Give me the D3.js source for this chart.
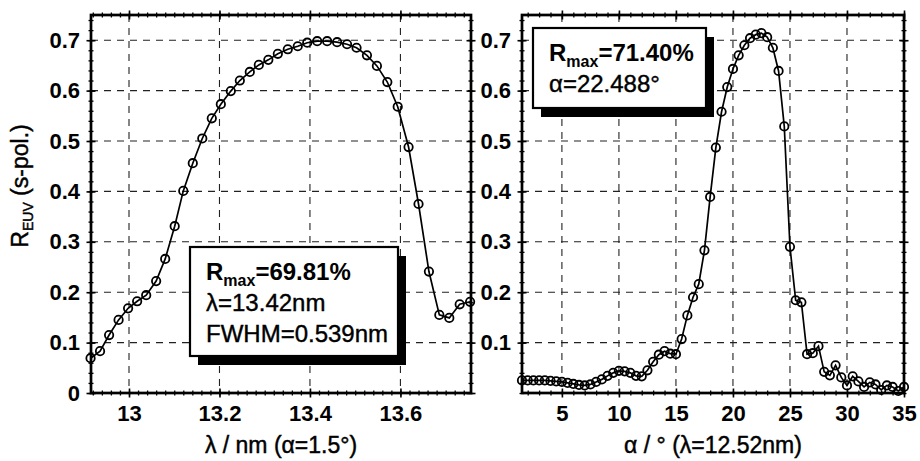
<!DOCTYPE html>
<html>
<head>
<meta charset="utf-8">
<script src="https://cdnjs.cloudflare.com/ajax/libs/d3/7.8.5/d3.min.js"></script>
<style>
  body { margin: 0; background: #fff; }
  svg text { font-family: "Liberation Sans", Arial, sans-serif; fill: #000; }
  .tick text { font-size: 22px; font-weight: bold; }
  .title { font-size: 23px; stroke: #000; stroke-width: 0.45px; }
  .legend { font-size: 24px; stroke: #000; stroke-width: 0.4px; }
</style>
</head>
<body>
<div id="chart"></div>
<script>

// Left panel: wavelength scan at alpha = 1.5 deg
var lambdaNm = [12.915, 12.936, 12.956, 12.977, 12.998, 13.018, 13.038, 13.060, 13.080, 13.101,
                13.120, 13.141, 13.162, 13.183, 13.203, 13.225, 13.245, 13.267, 13.287, 13.308,
                13.329, 13.351, 13.373, 13.394, 13.416, 13.438, 13.460, 13.482, 13.503, 13.526,
                13.548, 13.571, 13.594, 13.618, 13.640, 13.663, 13.686, 13.708, 13.731, 13.754];
var reflLambda = [0.069, 0.083, 0.115, 0.145, 0.168, 0.182, 0.194, 0.222, 0.266, 0.331,
                  0.401, 0.456, 0.505, 0.545, 0.573, 0.599, 0.620, 0.637, 0.651, 0.661,
                  0.673, 0.682, 0.688, 0.695, 0.698, 0.698, 0.696, 0.692, 0.685, 0.670,
                  0.649, 0.617, 0.568, 0.488, 0.375, 0.241, 0.155, 0.149, 0.176, 0.181];

// Right panel: angle scan at lambda = 12.52 nm
var alphaDeg = [1.5, 2, 2.5, 3, 3.5, 4, 4.5, 5, 5.5, 6, 6.5, 7, 7.5, 8, 8.5, 9, 9.5, 10,
                10.5, 11, 11.5, 12, 12.5, 13, 13.5, 14, 14.5, 15, 15.5, 16, 16.5, 17, 17.5, 18,
                18.5, 19, 19.5, 20, 20.5, 21, 21.5, 22, 22.5, 23, 23.5, 24, 24.5, 25, 25.5, 26,
                26.5, 27, 27.5, 28, 28.5, 29, 29.5, 30, 30.5, 31, 31.5, 32, 32.5, 33, 33.5, 34,
                34.5, 35];
var reflAlpha = [0.025, 0.025, 0.025, 0.025, 0.025, 0.024, 0.023, 0.022, 0.020, 0.018, 0.016, 0.015,
                 0.017, 0.022, 0.027, 0.034, 0.040, 0.044, 0.043, 0.040, 0.034, 0.033, 0.045, 0.062,
                 0.076, 0.083, 0.078, 0.077, 0.107, 0.154, 0.190, 0.216, 0.283, 0.389, 0.487, 0.558,
                 0.607, 0.643, 0.670, 0.690, 0.704, 0.711, 0.714, 0.706, 0.685, 0.639, 0.529, 0.290,
                 0.184, 0.180, 0.077, 0.079, 0.093, 0.042, 0.035, 0.055, 0.031, 0.015, 0.033, 0.023,
                 0.012, 0.021, 0.017, 0.006, 0.015, 0.012, 0.004, 0.012];

// tick labels
var lambdaTicks = [13, 13.2, 13.4, 13.6];
var alphaTicks = [5, 10, 15, 20, 25, 30, 35];
var reflTicksLeft = [0, 0.1, 0.2, 0.3, 0.4, 0.5, 0.6, 0.7];
var reflTicksRight = [0.1, 0.2, 0.3, 0.4, 0.5, 0.6, 0.7];

var svg = d3.select("#chart").append("svg")
  .attr("width", 920)
  .attr("height", 461);

var plotTop = 15, plotBottom = 393;
var y = d3.scaleLinear().domain([0, 0.75]).range([plotBottom, plotTop]);

// ticks crossing the frame: one axis going out, one going in
function crossTicks(g, axisFn, scale, values, size, pos, withLabels, pad) {
  [size, -size].forEach(function (s, i) {
    var a = axisFn(scale).tickValues(values).tickSize(s).tickPadding(pad || 3)
      .tickFormat(withLabels && i == 0 ? function (d) { return d; } : "");
    var ax = g.append("g").attr("transform", pos).call(a);
    ax.select(".domain").remove();
    ax.attr("font-family", null).attr("font-size", null);
    ax.selectAll("line").attr("stroke-width", size > 3 ? 1.6 : 1.3);
  });
}

function drawPanel(p) {
  var g = svg.append("g");
  var x = d3.scaleLinear().domain(p.domain).range([p.left, p.right]);

  // dashed grid
  g.selectAll(".vgrid")
    .data(p.xTicks.filter(function (d) { return x(d) < p.right - 2; })).enter()
    .append("line")
    .attr("x1", function (d) { return x(d); })
    .attr("x2", function (d) { return x(d); })
    .attr("y1", plotTop).attr("y2", plotBottom)
    .style("stroke", "#222").style("stroke-width", 1.1).style("stroke-dasharray", "7,6");
  g.selectAll(".hgrid")
    .data(reflTicksRight).enter()
    .append("line")
    .attr("x1", p.left).attr("x2", p.right)
    .attr("y1", function (d) { return y(d); })
    .attr("y2", function (d) { return y(d); })
    .style("stroke", "#222").style("stroke-width", 1.1).style("stroke-dasharray", "7,6");

  // curve + markers
  var pts = p.xs.map(function (v, i) { return [v, p.ys[i]]; });
  var line = d3.line()
    .x(function (d) { return x(d[0]); })
    .y(function (d) { return y(d[1]); });
  g.append("path").datum(pts)
    .attr("d", line)
    .style("fill", "none").style("stroke", "#000").style("stroke-width", 1.7);
  g.selectAll("circle")
    .data(pts).enter()
    .append("circle")
    .attr("cx", function (d) { return x(d[0]); })
    .attr("cy", function (d) { return y(d[1]); })
    .attr("r", 4.2)
    .style("fill", "none").style("stroke", "#000").style("stroke-width", 1.8);

  // legend box with drop shadow
  var lg = p.legend;
  g.append("rect")
    .attr("x", lg.x + 8).attr("y", lg.y + 9).attr("width", lg.w).attr("height", lg.h)
    .style("fill", "#000");
  g.append("rect")
    .attr("x", lg.x).attr("y", lg.y).attr("width", lg.w).attr("height", lg.h)
    .style("fill", "#fff").style("stroke", "#000").style("stroke-width", 2.2);
  lg.lines.forEach(function (ln, i) {
    var t = g.append("text").attr("class", "legend")
      .attr("x", lg.x + 16).attr("y", lg.y + 33 + i * 31);
    if (ln.sub) {
      t.style("font-weight", "bold").style("stroke", "none");
      t.append("tspan").text(ln.pre);
      t.append("tspan").text(ln.sub).attr("dy", 6).style("font-size", "16px");
      t.append("tspan").text(ln.post).attr("dy", -6);
    } else {
      t.text(ln.text);
    }
  });

  // frame ticks, major and minor, on all four sides
  var xMinor = d3.range(Math.ceil(p.domain[0] / p.minorStep - 1e-6) * p.minorStep, p.domain[1] + 1e-6, p.minorStep);
  var yMinor = d3.range(0, 0.7501, 0.02);
  crossTicks(g, d3.axisBottom, x, xMinor, 2.5, "translate(0," + plotBottom + ")", false);
  crossTicks(g, d3.axisTop, x, xMinor, 2.5, "translate(0," + plotTop + ")", false);
  crossTicks(g, d3.axisBottom, x, p.xTicks, 4.5, "translate(0," + plotBottom + ")", true, 7.5);
  crossTicks(g, d3.axisTop, x, p.xTicks, 4.5, "translate(0," + plotTop + ")", false);
  crossTicks(g, d3.axisLeft, y, yMinor, 2.5, "translate(" + p.left + ",0)", false);
  crossTicks(g, d3.axisRight, y, yMinor, 2.5, "translate(" + p.right + ",0)", false);
  crossTicks(g, d3.axisLeft, y, p.yTicks, 4.5, "translate(" + p.left + ",0)", true, 6.5);
  crossTicks(g, d3.axisRight, y, p.yTicks, 4.5, "translate(" + p.right + ",0)", false);

  g.append("rect")
    .attr("x", p.left).attr("y", plotTop)
    .attr("width", p.right - p.left).attr("height", plotBottom - plotTop)
    .style("fill", "none").style("stroke", "#000").style("stroke-width", 2.7);

  // x title
  g.append("text").attr("class", "title")
    .attr("x", (p.left + p.right) / 2).attr("y", 453)
    .attr("text-anchor", "middle")
    .text(p.xTitle);
}

drawPanel({
  left: 91, right: 471,
  domain: [12.916, 13.756],
  minorStep: 0.02,
  xs: lambdaNm, ys: reflLambda,
  xTicks: lambdaTicks, yTicks: reflTicksLeft,
  xTitle: "\u03bb / nm (\u03b1=1.5\u00b0)",
  legend: {
    x: 190, y: 247, w: 208, h: 109,
    lines: [{pre: "R", sub: "max", post: "=69.81%"},
            {text: "\u03bb=13.42nm"},
            {text: "FWHM=0.539nm"}]
  }
});

drawPanel({
  left: 522, right: 904,
  domain: [1.5, 35],
  minorStep: 1,
  xs: alphaDeg, ys: reflAlpha,
  xTicks: alphaTicks, yTicks: reflTicksRight,
  xTitle: "\u03b1 / \u00b0 (\u03bb=12.52nm)",
  legend: {
    x: 533, y: 28, w: 173, h: 80,
    lines: [{pre: "R", sub: "max", post: "=71.40%"},
            {text: "\u03b1=22.488\u00b0"}]
  }
});

// shared y title
var yt = svg.append("text").attr("class", "title")
  .attr("transform", "translate(28,186) rotate(-90)")
  .attr("text-anchor", "middle");
yt.append("tspan").text("R");
yt.append("tspan").text("EUV").attr("dy", 5).style("font-size", "14px");
yt.append("tspan").text(" (s-pol.)").attr("dy", -5);

</script>
</body>
</html>
